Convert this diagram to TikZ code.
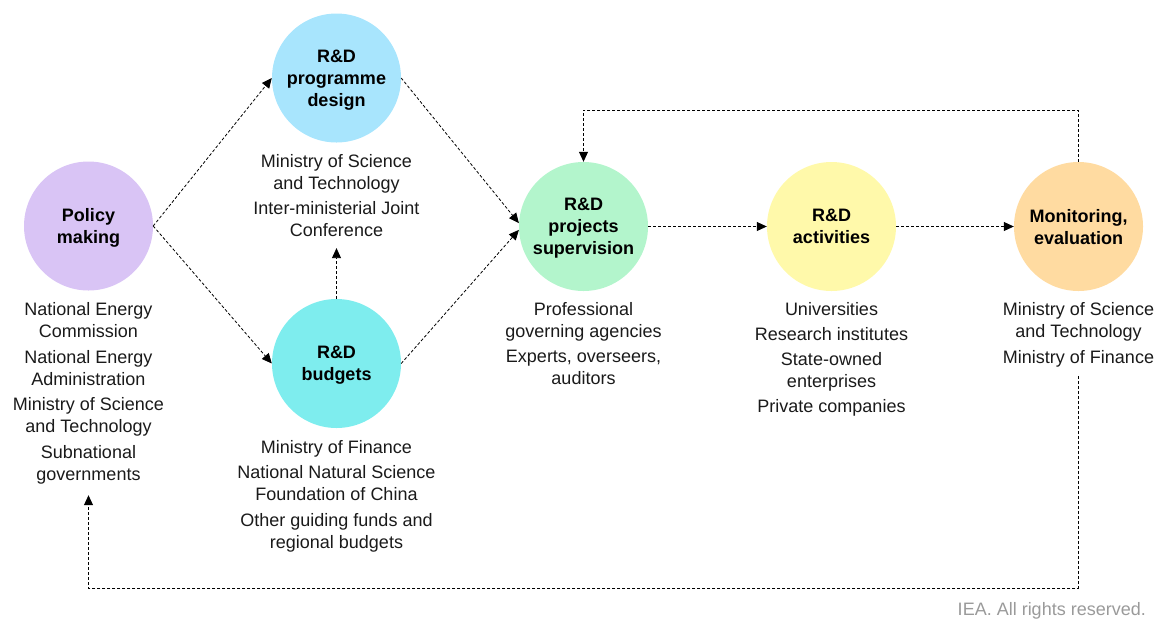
\documentclass[tikz,border=0pt]{standalone}
\usepackage{fontspec}
\setmainfont{Liberation Sans}
\usetikzlibrary{arrows.meta}

\definecolor{policyfill}{HTML}{D9C4F5}
\definecolor{designfill}{HTML}{A8E5FD}
\definecolor{budgetfill}{HTML}{7EEDEE}
\definecolor{supervfill}{HTML}{B3F5CC}
\definecolor{activfill}{HTML}{FFF9AA}
\definecolor{monitfill}{HTML}{FFDBA1}
\definecolor{bodytext}{HTML}{1A1A1A}
\definecolor{notegray}{HTML}{9A9A9A}

\begin{document}
\begin{tikzpicture}[x=1pt,y=-1pt,
  stage/.style={circle,minimum size=129pt,inner sep=0pt,align=center,
    text depth=0pt,font=\fontsize{18}{22}\selectfont\bfseries,text=black},
  actors/.style={anchor=north,inner sep=0pt,align=center,
    font=\fontsize{18}{22}\selectfont,text=bodytext},
  flow/.style={draw=black,line width=0.8pt,dash pattern=on 3pt off 2pt,
    -{Triangle[length=10pt,width=9pt]}},
]
\useasboundingbox (0,0) rectangle (1155,625);

% process stages
\node[stage,fill=policyfill] (policy) at (88.5,226) {Policy\\making};
\node[stage,fill=designfill] (design) at (336.5,78) {R\&D\\programme\\design};
\node[stage,fill=budgetfill] (budgets) at (336.5,363.5) {R\&D\\budgets};
\node[stage,fill=supervfill] (superv) at (583.5,226.5) {R\&D\\projects\\supervision};
\node[stage,fill=activfill] (activ) at (831.5,226.5) {R\&D\\activities};
\node[stage,fill=monitfill] (monit) at (1078.5,226.5) {Monitoring,\\evaluation};

% actors responsible for each stage
\node[actors] (policytext) at (88.5,302.5) {National Energy\\Commission\\[3.5pt]
  National Energy\\Administration\\[3.5pt]
  Ministry of Science\\and Technology\\[3.5pt]
  Subnational\\governments};
\node[actors] (designtext) at (336.5,154) {Ministry of Science\\and Technology\\[3.5pt]
  Inter-ministerial Joint\\Conference};
\node[actors] (budgettext) at (336.5,440) {Ministry of Finance\\[3.5pt]
  National Natural Science\\Foundation of China\\[3.5pt]
  Other guiding funds and\\regional budgets};
\node[actors] (supervtext) at (583.5,302) {Professional\\governing agencies\\[3.5pt]
  Experts, overseers,\\auditors};
\node[actors] (activtext) at (831.5,302.5) {Universities\\[3pt]
  Research institutes\\[3pt]
  State-owned\\enterprises\\[3pt]
  Private companies};
\node[actors] (monittext) at (1078.5,302.5) {Ministry of Science\\and Technology\\[3.5pt]
  Ministry of Finance};

% main flow
\draw[flow] (policy.east) -- (design.west);
\draw[flow] (policy.east) -- (budgets.west);
\draw[flow] (design.east) -- (superv.177);
\draw[flow] (budgets.east) -- (superv.183);
\draw[flow] (superv.east) -- (activ.west);
\draw[flow] (activ.east) -- (monit.west);
\draw[flow,shorten >=11pt] (budgets.north) -- (designtext.south);

% feedback loops
\coordinate (loopTop) at (583.5,110);
\coordinate (loopBottom) at (88.5,588);
\draw[flow] (monit.north) |- (loopTop) -- (superv.north);
\draw[flow,shorten <=9pt,shorten >=11pt] (monittext.south) |- (loopBottom) -- (policytext.south);

% source note
\node[anchor=base east,inner sep=0pt,font=\fontsize{18}{22}\selectfont,text=notegray]
  (note) at (1146,615) {IEA. All rights reserved.};
\end{tikzpicture}
\end{document}
